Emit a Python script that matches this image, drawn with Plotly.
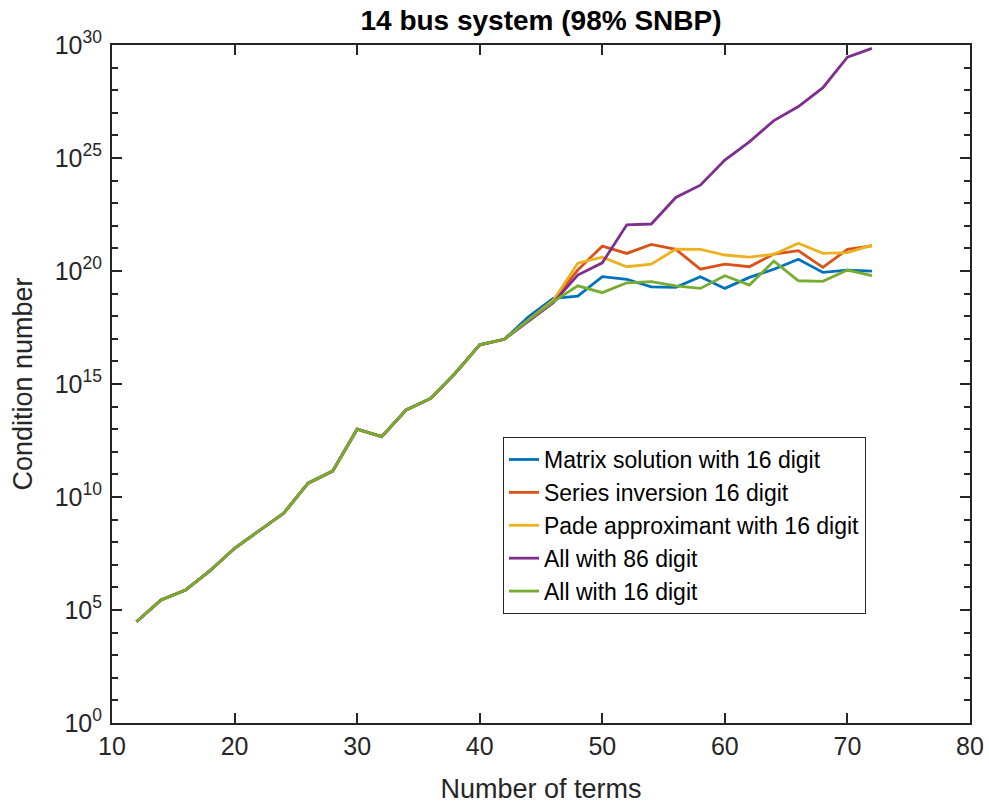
import plotly.graph_objects as go

# Number of terms in the series expansion
terms = [12, 14, 16, 18, 20, 22, 24, 26, 28, 30, 32, 34, 36, 38, 40, 42,
         44, 46, 48, 50, 52, 54, 56, 58, 60, 62, 64, 66, 68, 70, 72]

# Condition numbers shared by every method up to 42 terms
common = [3.0e4, 2.75e5, 7.6e5, 5.5e6, 5.4e7, 3.2e8, 1.9e9, 4.1e10, 1.4e11,
          1.0e13, 4.7e12, 7.1e13, 2.3e14, 3.0e15, 5.4e16, 9.5e16]

matrix_16 = common + [9.5e17, 6.2e18, 7.8e18, 5.6e19, 4.3e19, 2.0e19, 1.9e19,
                      5.6e19, 1.7e19, 5.2e19, 1.2e20, 3.3e20, 8.7e19, 1.1e20, 9.8e19]
series_inv_16 = common + [7.1e17, 5.0e18, 1.1e20, 1.26e21, 6.0e20, 1.5e21, 9.1e20,
                          1.2e20, 2.0e20, 1.55e20, 5.6e20, 7.9e20, 1.45e20, 9.1e20, 1.3e21]
pade_16 = common + [7.1e17, 5.0e18, 2.2e20, 4.1e20, 1.55e20, 2.0e20, 9.3e20,
                    9.1e20, 5.1e20, 4.1e20, 5.5e20, 1.7e21, 6.0e20, 6.5e20, 1.4e21]
all_86 = common + [6.3e17, 4.0e18, 6.6e19, 2.3e20, 1.1e22, 1.2e22, 1.8e23,
                   6.3e23, 8.1e24, 5.2e25, 4.5e26, 1.9e27, 1.3e28, 2.9e29, 7.1e29]
all_16 = common + [6.8e17, 4.4e18, 2.2e19, 1.1e19, 3.0e19, 3.4e19, 2.2e19,
                   1.7e19, 6.2e19, 2.4e19, 2.75e20, 3.7e19, 3.5e19, 1.1e20, 6.2e19]

names = ["Matrix solution with 16 digit", "Series inversion 16 digit",
         "Pade approximant with 16 digit", "All with 86 digit", "All with 16 digit"]
colors = ["#0072BD", "#D95319", "#EDB120", "#7E2F8E", "#77AC30"]
series = [matrix_16, series_inv_16, pade_16, all_86, all_16]

y_major = [1e0, 1e5, 1e10, 1e15, 1e20, 1e25, 1e30]
y_major_text = ["10<sup>0</sup>", "10<sup>5</sup>", "10<sup>10</sup>", "10<sup>15</sup>",
                "10<sup>20</sup>", "10<sup>25</sup>", "10<sup>30</sup>"]
y_minor = [10.0 ** k for k in range(0, 31) if k % 5 != 0]

FONT = "Liberation Sans, Arial, Helvetica, sans-serif"
INK = "#262626"

fig = go.Figure()
for i, (name, col, vals) in enumerate(zip(names, colors, series)):
    fig.add_trace(go.Scatter(
        x=terms, y=vals, mode="lines", name=name,
        line=dict(color=col, width=2.8),
        legendgroup=f"g{i}",
    ))

fig.update_layout(
    width=989, height=805,
    margin=dict(l=112, r=19, t=45, b=82, autoexpand=False),
    paper_bgcolor="white", plot_bgcolor="white",
    font=dict(family=FONT, color=INK),
    title=dict(text="<b>14 bus system (98% SNBP)</b>", x=(112 + 970) / 2 / 989,
               xanchor="center", y=1 - 20 / 805, yanchor="middle",
               font=dict(size=28, color="black", family=FONT)),
    legend=dict(x=0.4557, y=0.4218, xanchor="left", yanchor="top",
                bgcolor="white", bordercolor=INK, borderwidth=1,
                font=dict(size=23, color="black", family=FONT),
                tracegroupgap=0),
    showlegend=True,
)

fig.update_xaxes(
    range=[10, 80], tickmode="array", tickvals=[10, 20, 30, 40, 50, 60, 70, 80],
    ticks="inside", ticklen=10, tickwidth=1.5, tickcolor=INK,
    showline=True, linecolor=INK, linewidth=2, mirror="ticks",
    showgrid=False, zeroline=False, automargin=False,
    tickfont=dict(size=25, color=INK),
    title=dict(text="Number of terms", font=dict(size=27, color=INK), standoff=20),
)

fig.update_yaxes(
    type="log", range=[0, 30], tickmode="array",
    tickvals=y_major, ticktext=y_major_text,
    ticks="inside", ticklen=10, tickwidth=1.5, tickcolor=INK,
    minor=dict(tickmode="array", tickvals=y_minor, ticks="inside", ticklen=6,
               tickwidth=1.5, tickcolor=INK, showgrid=False),
    showline=True, linecolor=INK, linewidth=2, mirror="ticks",
    showgrid=False, zeroline=False, automargin=False,
    tickfont=dict(size=25, color=INK),
    ticklabelstandoff=3,
    title=dict(text="Condition number", font=dict(size=27, color=INK), standoff=14),
)

fig.write_html("out.html")
